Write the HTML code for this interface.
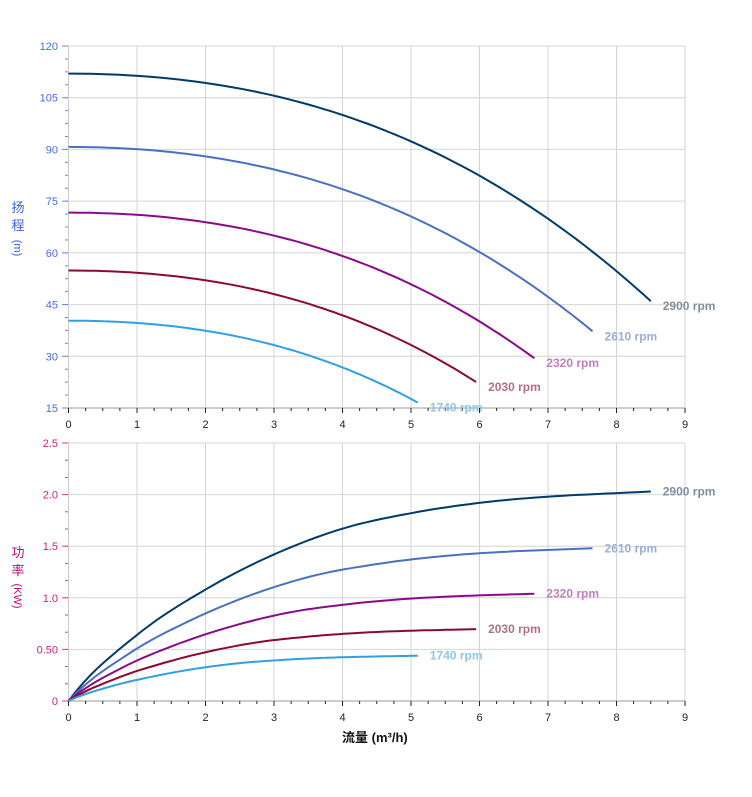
<!DOCTYPE html><html><head><meta charset="utf-8"><style>body{margin:0;background:#fff}svg{display:block;font-family:"Liberation Sans","Noto Sans CJK SC",sans-serif}</style></head><body>
<svg id="s" width="752" height="797" xmlns="http://www.w3.org/2000/svg"></svg>
<script>
var s=document.getElementById('s'),h='';
var X0=68.5,XS=68.5;
function X(q){return X0+q*XS}
function TY(v){return 46+(120-v)*362/105}
function BY(v){return 701-v*258/2.5}
// grids
for(var i=0;i<=9;i++){h+='<line x1="'+X(i)+'" y1="46" x2="'+X(i)+'" y2="408" stroke="#d4d4d4"/>';h+='<line x1="'+X(i)+'" y1="443" x2="'+X(i)+'" y2="701" stroke="#d4d4d4"/>';}
for(var v=15;v<=120;v+=15){var y=TY(v);h+='<line x1="68.5" y1="'+y+'" x2="685" y2="'+y+'" stroke="#d4d4d4"/><line x1="62" y1="'+y+'" x2="68.5" y2="'+y+'" stroke="#6a86e8"/><text x="58" y="'+(y+4)+'" font-size="11" fill="#4a6ee0" text-anchor="end">'+v+'</text>';}
for(var v=15;v<120;v+=3.75){var y=TY(v);h+='<line x1="65" y1="'+y+'" x2="68.5" y2="'+y+'" stroke="#6a86e8"/>';}
var bl=['0','0.50','1.0','1.5','2.0','2.5'];
for(var k=0;k<=5;k++){var y=BY(k*0.5);h+='<line x1="68.5" y1="'+y+'" x2="685" y2="'+y+'" stroke="#d4d4d4"/><line x1="62" y1="'+y+'" x2="68.5" y2="'+y+'" stroke="#d63c96"/><text x="58" y="'+(y+4)+'" font-size="11" fill="#cc2288" text-anchor="end">'+bl[k]+'</text>';}
for(var v=0;v<2.5;v+=0.5/3){var y=BY(v);h+='<line x1="65" y1="'+y+'" x2="68.5" y2="'+y+'" stroke="#d63c96"/>';}
h+='<line x1="68.5" y1="46" x2="68.5" y2="408" stroke="#ccc"/><line x1="68.5" y1="443" x2="68.5" y2="701" stroke="#ccc"/>';
[408,701].forEach(function(yy){h+='<line x1="68.5" y1="'+yy+'" x2="685" y2="'+yy+'" stroke="#bbb" stroke-width="1.5"/>';
for(var q=0;q<=36;q++){var x=X(q/4);h+='<line x1="'+x+'" y1="'+yy+'" x2="'+x+'" y2="'+(yy+(q%4?3:5))+'" stroke="#222"/>';}
for(var i=0;i<=9;i++)h+='<text x="'+X(i)+'" y="'+(yy+20)+'" font-size="11" fill="#222" text-anchor="middle">'+i+'</text>';});
function H(q){return 112-0.605*q*q-0.0363*q*q*q}
var pp=[[0,0],[1,0.64],[2,1.08],[3,1.42],[4,1.67],[5,1.82],[6,1.92],[7,1.98],[8.5,2.03]];
function P(q){for(var i=0;i<pp.length-1;i++){if(q<=pp[i+1][0]){var a=pp[Math.max(i-1,0)],b=pp[i],c=pp[i+1],d=pp[Math.min(i+2,pp.length-1)];var t=(q-b[0])/(c[0]-b[0]);var m1=(c[1]-a[1])/(c[0]-a[0])*(c[0]-b[0]),m2=(d[1]-b[1])/(d[0]-b[0]||1)*(c[0]-b[0]);if(i==0)m1=(c[1]-b[1])*1.4;var t2=t*t,t3=t2*t;return (2*t3-3*t2+1)*b[1]+(t3-2*t2+t)*m1+(-2*t3+3*t2)*c[1]+(t3-t2)*m2;}}return 2.03}
var C=[[2900,'#003a6a','#7f8fa0'],[2610,'#4a70c0','#9aaedc'],[2320,'#8a0a8a','#c080c0'],[2030,'#8a0a30','#b07080'],[1740,'#30a0e0','#8fc5e8']];
C.forEach(function(c){var r=c[0]/2900,qe=8.5*r,a='',b='';
for(var i=0;i<=80;i++){var q=qe*i/80;a+=(i?'L':'M')+X(q).toFixed(1)+','+TY(H(q/r)*r*r).toFixed(1);b+=(i?'L':'M')+X(q).toFixed(1)+','+BY(P(q/r)*r*r*r).toFixed(1);}
h+='<path d="'+a+'" fill="none" stroke="'+c[1]+'" stroke-width="2"/><path d="'+b+'" fill="none" stroke="'+c[1]+'" stroke-width="2"/>';
var ye=TY(46*r*r),ybe=BY(2.03*r*r*r);
h+='<text x="'+(X(qe)+12)+'" y="'+(ye+9)+'" font-size="12" font-weight="bold" fill="'+c[2]+'">'+c[0]+' rpm</text>';
h+='<text x="'+(X(qe)+12)+'" y="'+(ybe+4)+'" font-size="12" font-weight="bold" fill="'+c[2]+'">'+c[0]+' rpm</text>';});
h+='<text x="18" y="212" font-size="13" fill="#3a5ee0" text-anchor="middle">扬</text><text x="18" y="230" font-size="13" fill="#3a5ee0" text-anchor="middle">程</text><text x="18" y="252" font-size="11" fill="#3a5ee0" text-anchor="middle" transform="rotate(90 18 248)">(m)</text>';
h+='<text x="18" y="557" font-size="13" fill="#bb1177" text-anchor="middle">功</text><text x="18" y="575" font-size="13" fill="#bb1177" text-anchor="middle">率</text><text x="18" y="600" font-size="11" fill="#bb1177" text-anchor="middle" transform="rotate(90 18 596)">(KW)</text>';
h+='<text x="342" y="742" font-size="13" font-weight="bold" fill="#111">流量 (m³/h)</text>';
s.innerHTML=h;
</script></body></html>
